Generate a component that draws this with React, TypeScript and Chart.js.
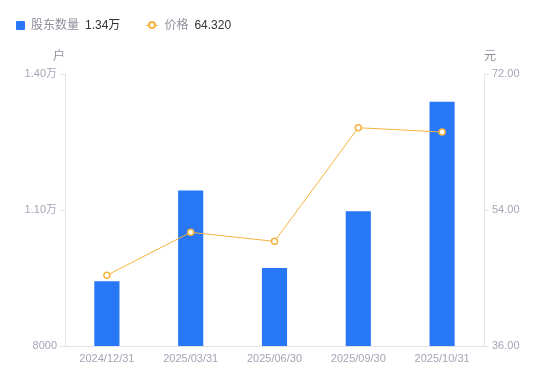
import React, { useEffect, useRef } from "react";
import { Chart, registerables } from "chart.js";

Chart.register(...registerables);

const categories = ["2024/12/31", "2025/03/31", "2025/06/30", "2025/09/30", "2025/10/31"];
const holders = [9430, 11430, 9720, 10970, 13390];
const prices = [45.36, 51.04, 49.85, 64.89, 64.32];
const leftTicks = [8000, 11000, 14000];
const rightTicks = [36, 54, 72];

const FONT = "'Liberation Sans', 'Noto Sans CJK SC', sans-serif";
const TICK_COLOR = "#a3a6b4";
const AXIS_COLOR = "#e3e3e8";
const BAR_COLOR = "#2777f6";
const LINE_COLOR = "#f6b23f";

function fmtLeft(v: number) {
  if (v >= 10000) return (v / 10000).toFixed(2) + "万";
  return String(v);
}

const axisTitles = {
  id: "axisTitles",
  afterDraw(chart: any) {
    const ctx = chart.ctx;
    const a = chart.chartArea;
    ctx.save();
    ctx.font = "12px " + FONT;
    ctx.fillStyle = "#8e909c";
    ctx.textBaseline = "middle";
    ctx.textAlign = "center";
    ctx.fillText("户", a.left - 6, 57);
    ctx.fillText("元", a.right + 6, 57);
    ctx.restore();
  },
};

export default function App() {
  const ref = useRef<HTMLCanvasElement>(null);
  useEffect(() => {
    const chart = new Chart(ref.current!, {
      type: "bar",
      data: {
        labels: categories,
        datasets: [
          {
            type: "line",
            label: "价格",
            data: prices,
            yAxisID: "y1",
            borderColor: LINE_COLOR,
            borderWidth: 1,
            pointRadius: 3,
            pointBorderWidth: 1.5,
            pointBackgroundColor: "#ffffff",
            pointBorderColor: LINE_COLOR,
            tension: 0,
            order: 0,
          } as any,
          {
            type: "bar",
            label: "股东数量",
            data: holders,
            yAxisID: "y",
            backgroundColor: BAR_COLOR,
            barPercentage: 0.3,
            categoryPercentage: 1,
            order: 1,
          },
        ],
      },
      options: {
        animation: false,
        responsive: false,
        layout: { padding: { top: 74, left: 0, right: 0, bottom: 0 } },
        plugins: { legend: { display: false }, tooltip: { enabled: false } },
        scales: {
          x: {
            grid: { display: false, drawTicks: false },
            border: { color: AXIS_COLOR },
            ticks: { color: TICK_COLOR, font: { size: 11, family: FONT }, padding: 6, maxRotation: 0 },
            afterFit(s: any) { s.height = 35; },
          },
          y: {
            position: "left",
            min: 8000,
            max: 14000,
            afterBuildTicks(s: any) { s.ticks = leftTicks.map((v) => ({ value: v })); },
            afterFit(s: any) { s.width = 65; },
            grid: { drawOnChartArea: false, tickLength: 5, color: AXIS_COLOR },
            border: { color: AXIS_COLOR },
            ticks: {
              color: TICK_COLOR,
              font: { size: 11, family: FONT },
              padding: 3,
              callback: (v: any) => fmtLeft(Number(v)),
            },
          },
          y1: {
            position: "right",
            min: 36,
            max: 72,
            afterBuildTicks(s: any) { s.ticks = rightTicks.map((v) => ({ value: v })); },
            afterFit(s: any) { s.width = 66; },
            grid: { drawOnChartArea: false, tickLength: 5, color: AXIS_COLOR },
            border: { color: AXIS_COLOR },
            ticks: {
              color: TICK_COLOR,
              font: { size: 11, family: FONT },
              padding: 3,
              callback: (v: any) => Number(v).toFixed(2),
            },
          },
        },
      },
      plugins: [axisTitles],
    });
    return () => chart.destroy();
  }, []);

  return (
    <div style={{ position: "fixed", left: 0, top: 0, width: 550, height: 381, background: "#fff" }}>
      <canvas ref={ref} width={550} height={381} style={{ position: "absolute", left: 0, top: 0 }} />
      <div
        style={{
          position: "absolute",
          left: 16,
          top: 17,
          display: "flex",
          alignItems: "center",
          fontFamily: FONT,
          fontSize: 12,
          lineHeight: "16px",
        }}
      >
        <span style={{ width: 9, height: 9, background: BAR_COLOR, borderRadius: 1, display: "inline-block", marginRight: 6 }} />
        <span style={{ color: "#8e909c" }}>股东数量</span>
        <span style={{ color: "#333", marginLeft: 6 }}>{(holders[holders.length - 1] / 10000).toFixed(2) + "万"}</span>
        <span style={{ position: "relative", width: 12, height: 9, marginLeft: 26, marginRight: 6, display: "inline-block" }}>
          <span style={{ position: "absolute", left: 0, top: 4, width: 12, height: 1, background: LINE_COLOR }} />
          <span
            style={{
              position: "absolute",
              left: 2,
              top: 0.5,
              width: 4,
              height: 4,
              border: "2px solid " + LINE_COLOR,
              borderRadius: "50%",
              background: "#fff",
            }}
          />
        </span>
        <span style={{ color: "#8e909c" }}>价格</span>
        <span style={{ color: "#333", marginLeft: 6 }}>{prices[prices.length - 1].toFixed(3)}</span>
      </div>
    </div>
  );
}
